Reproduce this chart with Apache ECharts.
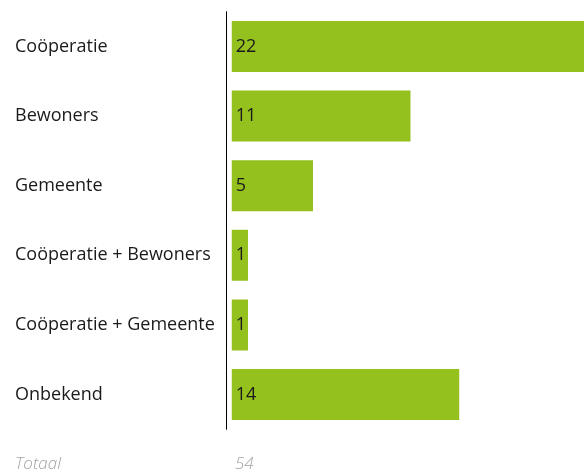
<!DOCTYPE html>
<html><head><meta charset="utf-8">
<script src="https://cdn.jsdelivr.net/npm/echarts@6/dist/echarts.min.js"></script>
<style>html,body{margin:0;padding:0;background:#fff}#c{width:584px;height:473px}</style>
</head><body><div id="c"></div>
<script>
const categories = ['Coöperatie','Bewoners','Gemeente','Coöperatie + Bewoners','Coöperatie + Gemeente','Onbekend'];
const values = [22, 11, 5, 1, 1, 14];
const totalLabel = 'Totaal';
const total = values.reduce((a,b)=>a+b,0);

const chart = echarts.init(document.getElementById('c'), null, {renderer:'canvas'});
chart.setOption({
  animation:false,
  grid:{left:226, top:11.7, right:0, height:417.6},
  xAxis:{type:'value', min:-0.354, max:21.68, show:false},
  yAxis:{type:'category', data:categories, inverse:true,
    axisLine:{show:true, onZero:false, lineStyle:{color:'#000', width:1}},
    axisTick:{show:false},
    axisLabel:{align:'left', margin:211, color:'#1a1a1a', fontFamily:'Open Sans', fontSize:18, padding:[2,0,0,0]}
  },
  series:[{type:'bar', data:values, barWidth:51, itemStyle:{color:'#95c11f'},
    label:{show:true, position:'insideLeft', distance:4, color:'#1a1a1a', fontFamily:'Open Sans', fontSize:18, padding:[2,0,0,0]}
  }],
  graphic:[
    {type:'text', left:15, top:456, style:{text:totalLabel, font:'italic 300 17px "Open Sans"', fill:'#a3a3a3'}},
    {type:'text', left:235, top:456, style:{text:String(total), font:'italic 300 17px "Open Sans"', fill:'#a3a3a3'}}
  ]
});
</script></body></html>
